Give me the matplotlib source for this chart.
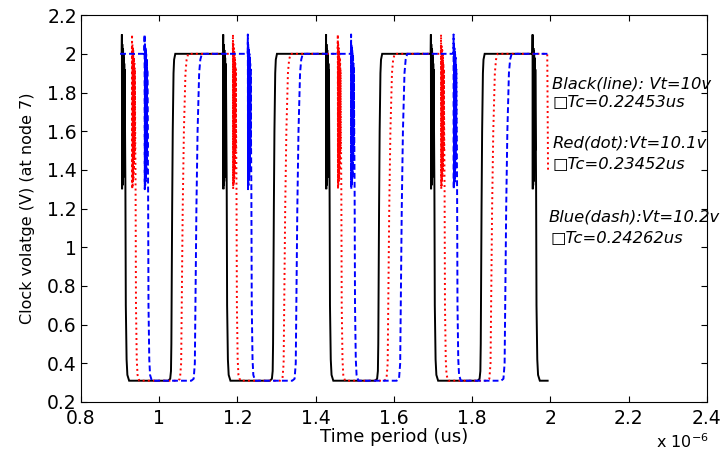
import matplotlib
matplotlib.use("Agg")
import matplotlib.pyplot as plt
from matplotlib.ticker import FuncFormatter, MultipleLocator

plt.rcParams["font.family"] = ["DejaVu Sans"]

# edge times (us)
# falls: left edge of the ringing band, rises: where the edge leaves the low level
black_fall = [0.904, 1.163, 1.426, 1.694, 1.954]
black_rise = [1.031, 1.291, 1.560, 1.822]
red_fall = [0.930, 1.188, 1.456, 1.720]
red_rise = [1.057, 1.319, 1.585, 1.848]
blue_fall = [0.962, 1.226, 1.490, 1.752]
blue_rise = [1.092, 1.350, 1.617, 1.884]

# shape of one falling edge (offset us, volts): dense ringing then drop to the low rail
fall_shape = [(0.0, 2.0), (0.0005, 2.10), (0.0010, 1.30), (0.0015, 2.05), (0.0020, 1.32),
              (0.0025, 2.03), (0.0030, 1.34), (0.0035, 2.02), (0.0040, 1.36), (0.0045, 2.0),
              (0.0050, 1.40), (0.0055, 1.98), (0.0060, 1.45), (0.0065, 1.95), (0.0070, 1.50),
              (0.0075, 1.92), (0.0095, 1.30), (0.0105, 0.70), (0.0125, 0.42), (0.0145, 0.34),
              (0.0190, 0.31)]
# rising edges
rise_fast = [(-0.008, 0.31), (-0.003, 0.32), (-0.001, 0.36), (0.0, 0.5), (0.002, 1.2),
             (0.0035, 1.6), (0.0055, 1.9), (0.007, 1.97), (0.010, 2.0)]
rise_slow = [(-0.010, 0.31), (-0.004, 0.32), (-0.001, 0.40), (0.0, 0.6), (0.003, 1.2),
             (0.006, 1.6), (0.010, 1.9), (0.013, 1.97), (0.017, 2.0)]

black_head, black_tail = [], [(1.993, 0.31)]
red_head, red_tail = [], [(1.992, 2.0), (1.993, 1.70), (1.994, 1.40)]
blue_head, blue_tail = [(0.900, 2.0)], [(2.0, 2.0)]

notes = [
    (2.005, 1.843, "Black(line): Vt=10v"),
    (2.005, 1.752, "\u25a1Tc=0.22453us"),
    (2.005, 1.538, "Red(dot):Vt=10.1v"),
    (2.005, 1.432, "\u25a1Tc=0.23452us"),
    (1.995, 1.156, "Blue(dash):Vt=10.2v"),
    (2.000, 1.048, "\u25a1Tc=0.24262us"),
]


def waveform(head, falls, rises, rise_shape, tail):
    pts = list(head)
    edges = sorted([(t, fall_shape) for t in falls] + [(t, rise_shape) for t in rises])
    for t0, shape in edges:
        pts += [(t0 + dt, v) for dt, v in shape]
    pts += tail
    t, v = zip(*pts)
    return t, v


fig = plt.figure(figsize=(7.26, 4.53), dpi=100, facecolor="white")
ax = fig.add_axes([0.1116, 0.1126, 0.862, 0.854])

t, v = waveform(black_head, black_fall, black_rise, rise_fast, black_tail)
ax.plot(t, v, color="black", lw=1.4, solid_joinstyle="miter")
t, v = waveform(red_head, red_fall, red_rise, rise_slow, red_tail)
ax.plot(t, v, color="#ff0000", lw=1.4, linestyle=":")
t, v = waveform(blue_head, blue_fall, blue_rise, rise_slow, blue_tail)
ax.plot(t, v, color="#0000ff", lw=1.4, linestyle="--", dashes=(3, 1.6))

ax.set_xlim(0.8, 2.4)
ax.set_ylim(0.2, 2.2)
ax.xaxis.set_major_locator(MultipleLocator(0.2))
ax.yaxis.set_major_locator(MultipleLocator(0.2))
fmt = FuncFormatter(lambda x, pos: f"{round(x, 3):g}")
ax.xaxis.set_major_formatter(fmt)
ax.yaxis.set_major_formatter(fmt)
ax.tick_params(direction="in", length=4, width=0.8, top=True, right=True, labelsize=13.5)
ax.tick_params(axis="x", pad=5)
ax.tick_params(axis="y", pad=3)
for s in ax.spines.values():
    s.set_linewidth(0.8)

ax.set_xlabel("Time period (us)", fontsize=13, labelpad=0)
ax.set_ylabel("Clock volatge (V) (at node 7)", fontsize=11.5, labelpad=9)

for x, y, s in notes:
    ax.text(x, y, s, fontsize=11.8, style="italic", ha="left", va="center", clip_on=False)

fig.text(0.903, 0.012, r"x 10$^{-6}$", fontsize=11.5, ha="left", va="baseline")

fig.savefig("out.png", dpi=100)
